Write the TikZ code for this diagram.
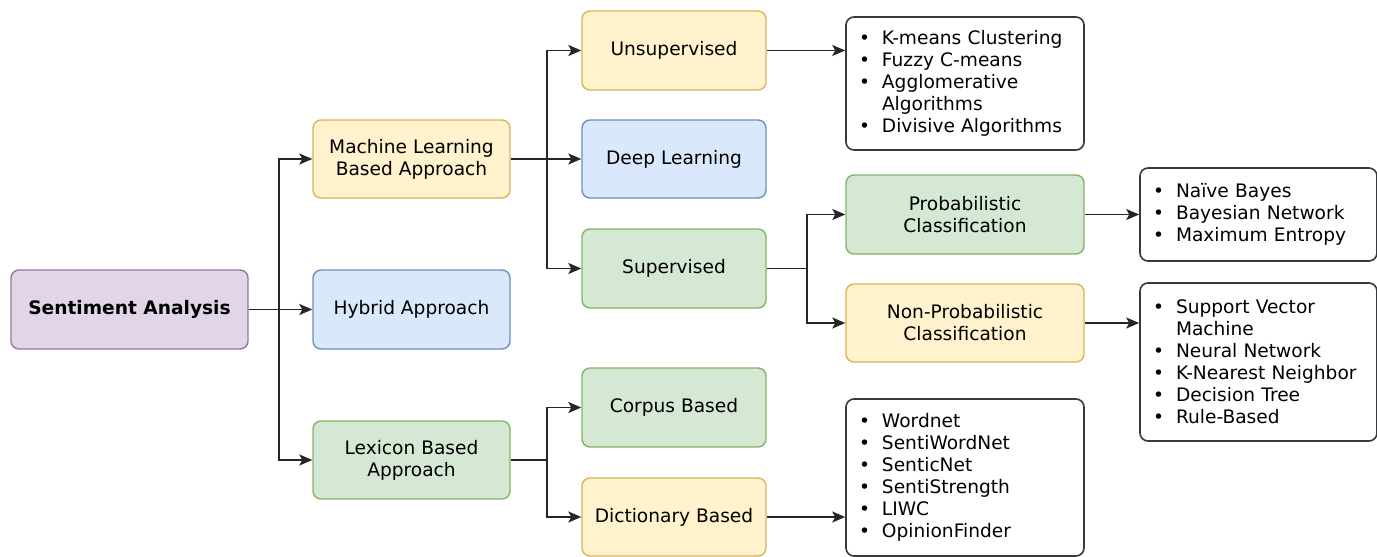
\documentclass[tikz,border=0pt]{standalone}
\usepackage{fontspec}
\setmainfont{DejaVu Sans}
\usetikzlibrary{arrows.meta}
\definecolor{yfill}{HTML}{FFF2CC}\definecolor{ydraw}{HTML}{D6B656}
\definecolor{bfill}{HTML}{DAE8FC}\definecolor{bdraw}{HTML}{6C8EBF}
\definecolor{gfill}{HTML}{D5E8D4}\definecolor{gdraw}{HTML}{82B366}
\definecolor{pfill}{HTML}{E1D5E7}\definecolor{pdraw}{HTML}{9673A6}
\definecolor{kdraw}{HTML}{36393D}
\begin{document}
\begin{tikzpicture}[x=1pt,y=1pt,
  every node/.style={font=\fontsize{18.6}{22}\selectfont},
  box/.style={rounded corners=8pt, line width=1.4pt, align=center, inner sep=0pt},
  ybox/.style={box, fill=yfill, draw=ydraw},
  bbox/.style={box, fill=bfill, draw=bdraw},
  gbox/.style={box, fill=gfill, draw=gdraw},
  pbox/.style={box, fill=pfill, draw=pdraw},
  lbox/.style={rounded corners=8pt, line width=1.6pt, draw=kdraw, fill=white, align=left,
     inner xsep=13pt, inner ysep=0pt},
  conn/.style={line width=1.7pt, draw=black!85, -{Stealth[length=13pt,width=11pt,inset=3pt]}}
]
\useasboundingbox (0,0) rectangle (1377,-557);
\newcommand{\bul}{\makebox[23pt][l]{•}}
\newcommand{\cont}{\hspace*{23pt}}

\node[pbox, minimum width=237pt, minimum height=79pt] (sa) at (129.5,-309.5) {\textbf{Sentiment Analysis}};
\node[ybox, minimum width=197pt, minimum height=78pt] (ml) at (411.5,-159) {Machine Learning\\Based Approach};
\node[bbox, minimum width=197pt, minimum height=79pt] (hy) at (411.5,-309.5) {Hybrid Approach};
\node[gbox, minimum width=197pt, minimum height=78pt] (lx) at (411.5,-460) {Lexicon Based\\Approach};

\node[ybox, minimum width=184pt, minimum height=79pt] (un) at (674,-50.5) {Unsupervised};
\node[bbox, minimum width=184pt, minimum height=78pt] (dl) at (674,-159) {Deep Learning};
\node[gbox, minimum width=184pt, minimum height=79pt] (su) at (674,-268.5) {Supervised};
\node[gbox, minimum width=184pt, minimum height=79pt] (co) at (674,-407.5) {Corpus Based};
\node[ybox, minimum width=184pt, minimum height=78pt] (di) at (674,-517) {Dictionary Based};

\node[gbox, minimum width=238pt, minimum height=79pt] (pr) at (965,-214.5) {Probabilistic\\Classification};
\node[ybox, minimum width=238pt, minimum height=78pt] (np) at (965,-323) {Non-Probabilistic\\Classification};

\node[lbox, text width=212pt, minimum height=133pt] (unl) at (965,-83.5)
  {\bul K-means Clustering\\\bul Fuzzy C-means\\\bul Agglomerative\\\cont Algorithms\\\bul Divisive Algorithms};
\node[lbox, text width=211pt, minimum height=93pt] (prl) at (1258.5,-214.5)
  {\bul Naïve Bayes\\\bul Bayesian Network\\\bul Maximum Entropy};
\node[lbox, text width=211pt, minimum height=158pt] (npl) at (1258.5,-362)
  {\bul Support Vector\\\cont Machine\\\bul Neural Network\\\bul K-Nearest Neighbor\\\bul Decision Tree\\\bul Rule-Based};
\node[lbox, text width=212pt, minimum height=157pt] (dil) at (965,-477.5)
  {\bul Wordnet\\\bul SentiWordNet\\\bul SenticNet\\\bul SentiStrength\\\bul LIWC\\\bul OpinionFinder};

\draw[conn] (sa.east) -- ++(30,0) |- (ml.west);
\draw[conn] (sa.east) -- (hy.west);
\draw[conn] (sa.east) -- ++(30,0) |- (lx.west);

\draw[conn] (ml.east) -- ++(36,0) |- (un.west);
\draw[conn] (ml.east) -- (dl.west);
\draw[conn] (ml.east) -- ++(36,0) |- (su.west);

\draw[conn] (lx.east) -- ++(36,0) |- (co.west);
\draw[conn] (lx.east) -- ++(36,0) |- (di.west);

\draw[conn] (su.east) -- ++(40,0) |- (pr.west);
\draw[conn] (su.east) -- ++(40,0) |- (np.west);

\draw[conn] (un.east) -- (unl.west |- un.east);
\draw[conn] (pr.east) -- (prl.west |- pr.east);
\draw[conn] (np.east) -- (npl.west |- np.east);
\draw[conn] (di.east) -- (dil.west |- di.east);
\end{tikzpicture}
\end{document}
